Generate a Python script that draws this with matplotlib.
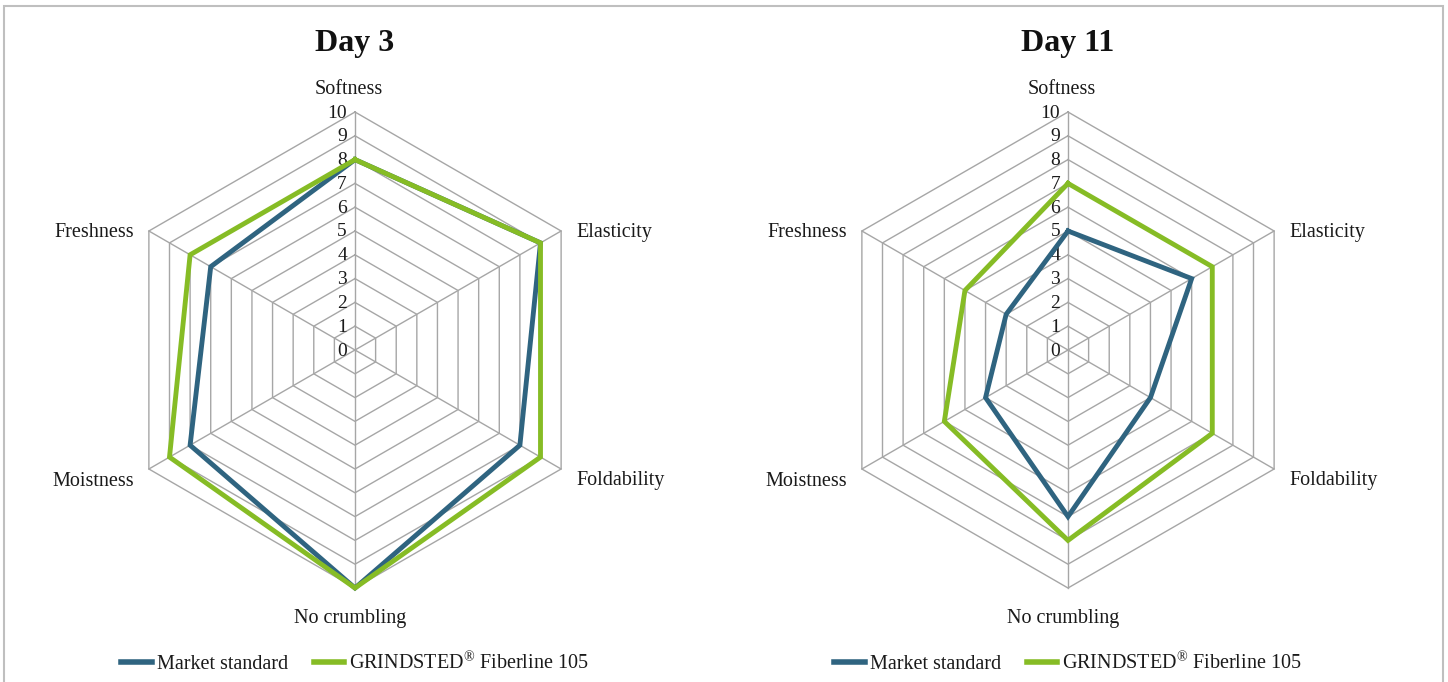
import numpy as np
import matplotlib
matplotlib.use("Agg")
import matplotlib.pyplot as plt
from matplotlib.patches import Rectangle

plt.rcParams['font.family'] = ['Liberation Serif', 'DejaVu Serif']
plt.rcParams['mathtext.fontset'] = 'custom'
plt.rcParams['mathtext.rm'] = 'Liberation Serif'
plt.rcParams['mathtext.it'] = 'Liberation Serif:italic'
plt.rcParams['mathtext.bf'] = 'Liberation Serif:bold'

# ---- data ----
categories = ["Softness", "Elasticity", "Foldability", "No crumbling", "Moistness", "Freshness"]
series_names = ["Market standard", "GRINDSTED$^{\\mathrm{\u00ae}}$ Fiberline 105"]
panel_titles = ["Day 3", "Day 11"]
day3_market = [8, 9, 8, 10, 8, 7]
day3_fiberline = [8, 9, 9, 10, 9, 8]
day11_market = [5, 6, 4, 7, 4, 3]
day11_fiberline = [7, 7, 7, 8, 6, 5]
tick_values = list(range(0, 11))

colors = ["#2F6480", "#86BC25"]
grid_color = "#A6A6A6"
text_color = "#1A1A1A"

W, H = 1448, 682
PT = 0.72  # points per pixel at 100 dpi
fig = plt.figure(figsize=(W / 100, H / 100), dpi=100)

# outer frame (open at the bottom)
fig.patches.append(Rectangle((4 / W, -0.05), (1443 - 4) / W, 1.05 - 5.5 / H,
                             transform=fig.transFigure, fill=False,
                             edgecolor="#BFBFBF", linewidth=1.5))

n = len(categories)
theta = np.linspace(0, 2 * np.pi, n, endpoint=False)
theta_closed = np.append(theta, theta[0])

# label offsets (pixels) and alignment per spoke
label_specs = [
    ((-6, 23), "center"),
    ((15, -1), "left"),
    ((15, -12), "left"),
    ((-5, -30), "center"),
    ((-15, -12), "right"),
    ((-15, -1), "right"),
]

panels = [
    (355, panel_titles[0], [day3_market, day3_fiberline]),
    (1068, panel_titles[1], [day11_market, day11_fiberline]),
]

R = 238  # pixel radius for value 10
cy = 350
for cx, title, series in panels:
    ax = fig.add_axes([(cx - R) / W, (H - cy - R) / H, 2 * R / W, 2 * R / H],
                      projection="polar")
    ax.set_theta_zero_location("N")
    ax.set_theta_direction(-1)
    ax.set_ylim(0, 10)
    ax.grid(False)
    ax.spines["polar"].set_visible(False)
    ax.set_xticks([])
    ax.set_yticks([])
    ax.patch.set_visible(False)

    # hexagonal grid
    for lvl in tick_values[1:]:
        ax.plot(theta_closed, [lvl] * (n + 1), color=grid_color, lw=1.0,
                zorder=1, clip_on=False)
    for t in theta:
        ax.plot([t, t], [0, 10], color=grid_color, lw=1.0, zorder=1, clip_on=False)

    # value ticks along the top spoke
    for v in tick_values:
        ax.annotate(str(v), xy=(0, v), xytext=(-8 * PT, -1 * PT), textcoords="offset points",
                    ha="right", va="center", fontsize=14, color=text_color,
                    annotation_clip=False)

    # category labels
    for t, cat, ((dx, dy), ha) in zip(theta, categories, label_specs):
        ax.annotate(cat, xy=(t, 10), xytext=(dx * PT, dy * PT),
                    textcoords="offset points", ha=ha, va="center",
                    fontsize=14.5, color=text_color, annotation_clip=False)

    # data series
    for vals, name, c in zip(series, series_names, colors):
        ax.plot(theta_closed, list(vals) + [vals[0]], color=c, lw=3.5,
                label=name, zorder=3, clip_on=False, solid_joinstyle="miter")

    leg = ax.legend(loc="center", bbox_to_anchor=(0.5, -0.157), ncol=2,
                    frameon=False, fontsize=14.5, handlelength=1.5,
                    handletextpad=0.25, columnspacing=1.3)
    for text in leg.get_texts():
        text.set_color(text_color)
    for line in leg.get_lines():
        line.set_linewidth(4)

    fig.text(cx / W, 1 - 43 / H, title, ha="center", va="center",
             fontsize=23, fontweight="bold", color="#111111")

fig.savefig("out.png", dpi=100)
